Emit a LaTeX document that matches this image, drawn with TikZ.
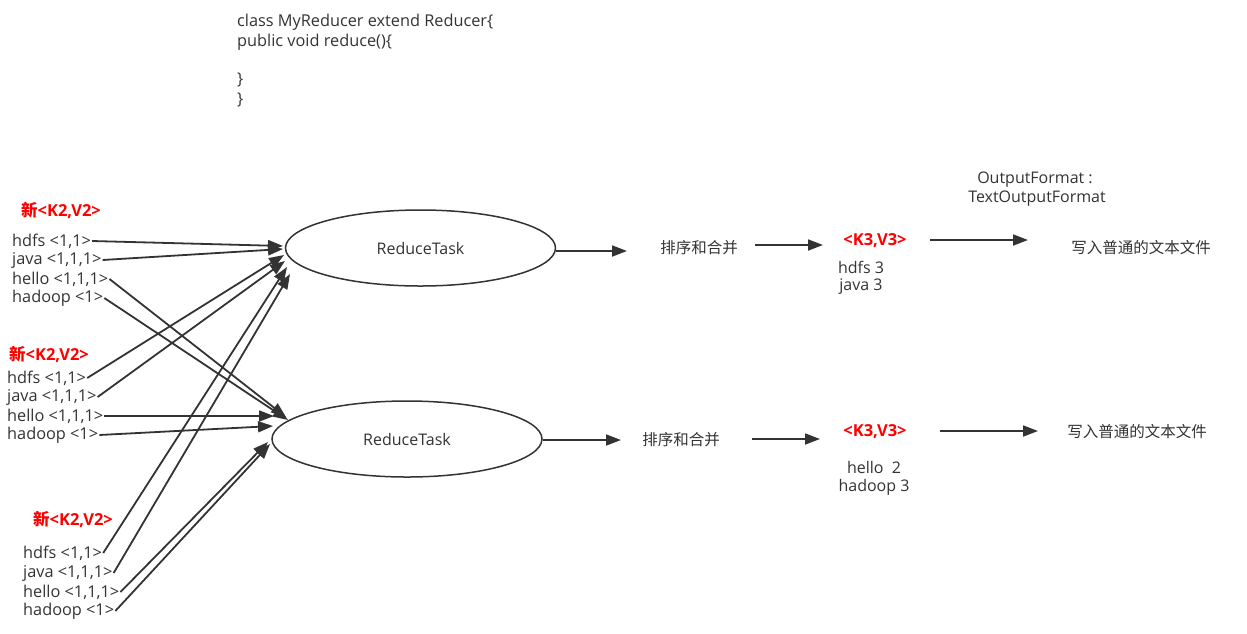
\documentclass[tikz,border=0pt]{standalone}
\usepackage{fontspec}
\setmainfont{Open Sans}
\newfontfamily\cjk{Noto Sans CJK SC}
\usetikzlibrary{arrows.meta,shapes.geometric}
\definecolor{ink}{HTML}{333333}
\definecolor{kred}{HTML}{FF0000}
\begin{document}
\begin{tikzpicture}[x=1pt,y=-1pt,
  lbl/.style={inner sep=1pt, anchor=west, text=ink, font=\fontsize{16.3}{19}\selectfont},
  ctr/.style={inner sep=1pt, text=ink, font=\fontsize{16}{19}\selectfont},
  head/.style={inner sep=1pt, anchor=west, text=kred, font=\fontsize{16.5}{19}\selectfont\bfseries},
  khead/.style={inner sep=1pt, text=kred, font=\fontsize{16.5}{19}\selectfont\bfseries},
  task/.style={ellipse, draw=ink, line width=1.5pt, minimum width=270pt, minimum height=76pt, inner sep=0pt, text=ink, font=\fontsize{16}{19}\selectfont},
  arr/.style={draw=ink, line width=1.8pt, -{Triangle[length=15pt,width=11pt]}},
]
\useasboundingbox (0,0) rectangle (1247,633);

% code text
\node[lbl] (c1) at (236,22) {class MyReducer extend Reducer\{};
\node[lbl] (c2) at (236,42) {public void reduce()\{};
\node[lbl] (c3) at (236,80) {\}};
\node[lbl] (c4) at (236,100) {\}};

% reduce tasks
\node[task] (r1) at (420.5,248) {ReduceTask};
\node[task] (r2) at (407,439) {ReduceTask};

% group 1
\node[head] (h1) at (20,210) {{\cjk 新}<K2,V2>};
\node[lbl] (hdfsA) at (11,241) {hdfs <1,1>};
\node[lbl] (javaA) at (11,260) {java <1,1,1>};
\node[lbl] (helloA) at (11,279) {hello <1,1,1>};
\node[lbl] (hadoopA) at (11,298) {hadoop <1>};
% group 2
\node[head] (h2) at (8,354) {{\cjk 新}<K2,V2>};
\node[lbl] (hdfsB) at (6,378) {hdfs <1,1>};
\node[lbl] (javaB) at (6,397) {java <1,1,1>};
\node[lbl] (helloB) at (6,416) {hello <1,1,1>};
\node[lbl] (hadoopB) at (6,435) {hadoop <1>};
% group 3
\node[head] (h3) at (32,519) {{\cjk 新}<K2,V2>};
\node[lbl] (hdfsC) at (22,553) {hdfs <1,1>};
\node[lbl] (javaC) at (22,573) {java <1,1,1>};
\node[lbl] (helloC) at (22,592) {hello <1,1,1>};
\node[lbl] (hadoopC) at (22,611) {hadoop <1>};

% arrow tips at the reduce tasks
\coordinate (t11) at (283,246);
\coordinate (t12) at (283,249);
\coordinate (t13) at (284,255);
\coordinate (t14) at (285,261);
\coordinate (t15) at (287,267);
\coordinate (t16) at (290,274);
\coordinate (t21) at (286,417);
\coordinate (t22) at (288,420);
\coordinate (t23) at (274,416);
\coordinate (t24) at (273,426);
\coordinate (t25) at (268,442);
\coordinate (t26) at (270,444);

\draw[arr] (hdfsA.east) -- (t11);
\draw[arr] (javaA.east) -- (t12);
\draw[arr] (hdfsB.east) -- (t13);
\draw[arr] (javaB.east) -- (t14);
\draw[arr] (hdfsC.east) -- (t15);
\draw[arr] (javaC.east) -- (t16);
\draw[arr] (helloA.east) -- (t21);
\draw[arr] (hadoopA.east) -- (t22);
\draw[arr] (helloB.east) -- (t23);
\draw[arr] (hadoopB.east) -- (t24);
\draw[arr] (helloC.east) -- (t25);
\draw[arr] (hadoopC.east) -- (t26);

% right side row 1
\node[ctr] (s1) at (699,248) {\cjk\fontsize{15.5}{19}\selectfont 排序和合并};
\node[khead] (k1) at (875,241) {<K3,V3>};
\node[ctr] (v1a) at (861,267) {hdfs 3};
\node[ctr] (v1b) at (861,287) {java 3};
\node[ctr] (w1) at (1141,248) {\cjk\fontsize{15.5}{19}\selectfont 写入普通的文本文件};
\node[ctr] (of1) at (1035,180) {OutputFormat :};
\node[ctr] (of2) at (1037,199) {TextOutputFormat};
\coordinate (p1) at (627,251);
\coordinate (q1s) at (755,245);
\coordinate (q1e) at (823,245);
\coordinate (u1s) at (930,240);
\coordinate (u1e) at (1028,240);
\draw[arr] (r1.east |- p1) -- (p1);
\draw[arr] (q1s) -- (q1e);
\draw[arr] (u1s) -- (u1e);

% right side row 2
\node[ctr] (s2) at (681,440) {\cjk\fontsize{15.5}{19}\selectfont 排序和合并};
\node[khead] (k2) at (875,432) {<K3,V3>};
\node[ctr] (v2a) at (874,467) {hello\ \ 2};
\node[ctr] (v2b) at (874,487) {hadoop 3};
\node[ctr] (w2) at (1137,432) {\cjk\fontsize{15.5}{19}\selectfont 写入普通的文本文件};
\coordinate (p2) at (621,440);
\coordinate (q2s) at (752,439);
\coordinate (q2e) at (820,439);
\coordinate (u2s) at (940,431);
\coordinate (u2e) at (1038,431);
\draw[arr] (r2.east |- p2) -- (p2);
\draw[arr] (q2s) -- (q2e);
\draw[arr] (u2s) -- (u2e);
\end{tikzpicture}
\end{document}
